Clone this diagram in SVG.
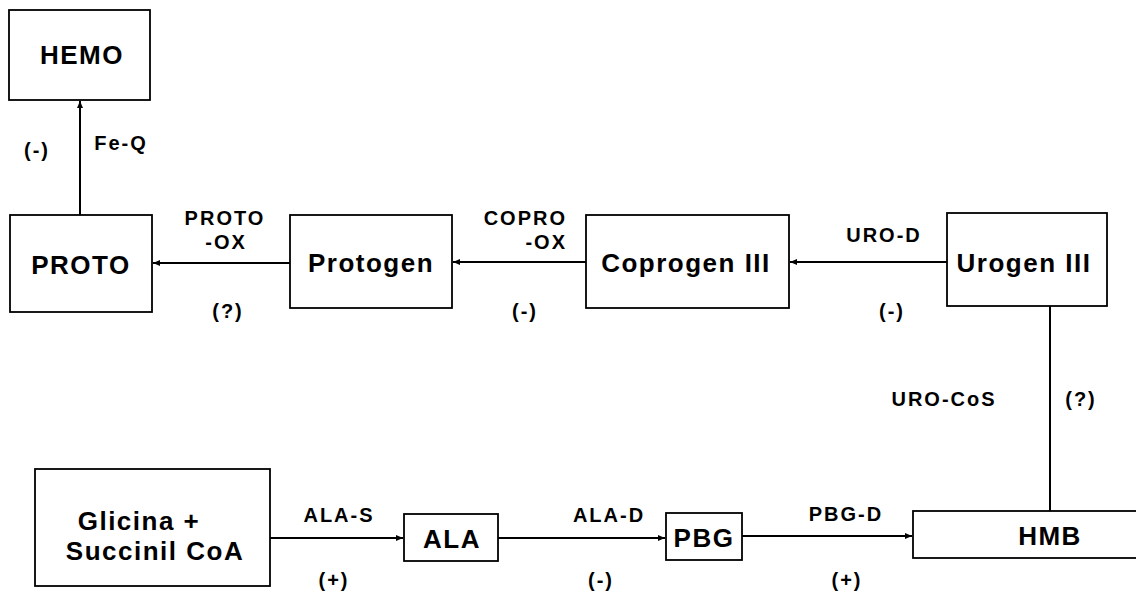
<svg xmlns="http://www.w3.org/2000/svg" width="1136" height="596" viewBox="0 0 1136 596">
<style>
.box{fill:#fff;stroke:#000;stroke-width:1.8}
.bt{font-family:"Liberation Sans",Arial,sans-serif;font-weight:bold;font-size:26px;letter-spacing:1.5px;fill:#000;text-anchor:middle}
.lb{font-family:"Liberation Sans",Arial,sans-serif;font-weight:bold;font-size:20px;letter-spacing:2px;fill:#000;text-anchor:middle}
.ln{fill:none;stroke:#000;stroke-width:2}
</style>
<defs>
<marker id="ah" markerUnits="userSpaceOnUse" markerWidth="8" markerHeight="8" refX="7" refY="4" orient="auto">
<path d="M0,1 L7,4 L0,7 Z" fill="#000"/>
</marker>
</defs>
<rect width="1136" height="596" fill="#fff"/>
<g id="connectors">
<line class="ln" x1="80" y1="215" x2="80" y2="101" marker-end="url(#ah)"/>
<line class="ln" x1="290" y1="263" x2="153" y2="263" marker-end="url(#ah)"/>
<line class="ln" x1="586" y1="262" x2="453" y2="262" marker-end="url(#ah)"/>
<line class="ln" x1="947" y1="262" x2="790" y2="262" marker-end="url(#ah)"/>
<line class="ln" x1="1050" y1="511" x2="1050" y2="306"/>
<line class="ln" x1="270" y1="538" x2="403" y2="538" marker-end="url(#ah)"/>
<line class="ln" x1="498" y1="538" x2="665" y2="538" marker-end="url(#ah)"/>
<line class="ln" x1="742" y1="536" x2="912" y2="536" marker-end="url(#ah)"/>
<text class="lb" x="121" y="150">Fe-Q</text>
<text class="lb" x="37" y="157">(-)</text>
<text class="lb" x="225" y="225">PROTO</text>
<text class="lb" x="226" y="249">-OX</text>
<text class="lb" x="228" y="318">(?)</text>
<text class="lb" x="567" y="225" style="text-anchor:end">COPRO</text>
<text class="lb" x="567" y="249" style="text-anchor:end">-OX</text>
<text class="lb" x="525" y="318">(-)</text>
<text class="lb" x="884" y="242">URO-D</text>
<text class="lb" x="892" y="318">(-)</text>
<text class="lb" x="944" y="406">URO-CoS</text>
<text class="lb" x="1081" y="406">(?)</text>
<text class="lb" x="339" y="522">ALA-S</text>
<text class="lb" x="334" y="587">(+)</text>
<text class="lb" x="609" y="522">ALA-D</text>
<text class="lb" x="601" y="587">(-)</text>
<text class="lb" x="846" y="521">PBG-D</text>
<text class="lb" x="847" y="587">(+)</text>
</g>
<g id="hemo"><rect class="box" x="9" y="10" width="141" height="90"/><text class="bt" x="82" y="64">HEMO</text></g>
<g id="proto"><rect class="box" x="10" y="215" width="142" height="97"/><text class="bt" x="81" y="274">PROTO</text></g>
<g id="protogen"><rect class="box" x="290" y="215" width="162" height="93"/><text class="bt" x="371" y="272">Protogen</text></g>
<g id="coprogen"><rect class="box" x="586" y="215" width="203" height="93"/><text class="bt" x="686" y="272">Coprogen III</text></g>
<g id="urogen"><rect class="box" x="947" y="213" width="160" height="93"/><text class="bt" x="1024" y="272">Urogen III</text></g>
<g id="glicina"><rect class="box" x="35" y="469" width="235" height="117"/><text class="bt" x="139" y="530">Glicina +</text><text class="bt" x="155" y="560">Succinil CoA</text></g>
<g id="ala"><rect class="box" x="404" y="514" width="94" height="47"/><text class="bt" x="452" y="548">ALA</text></g>
<g id="pbg"><rect class="box" x="666" y="513" width="76" height="47"/><text class="bt" x="704" y="547">PBG</text></g>
<g id="hmb"><rect class="box" x="913" y="511" width="240" height="47"/><text class="bt" x="1050" y="545">HMB</text></g>
</svg>
